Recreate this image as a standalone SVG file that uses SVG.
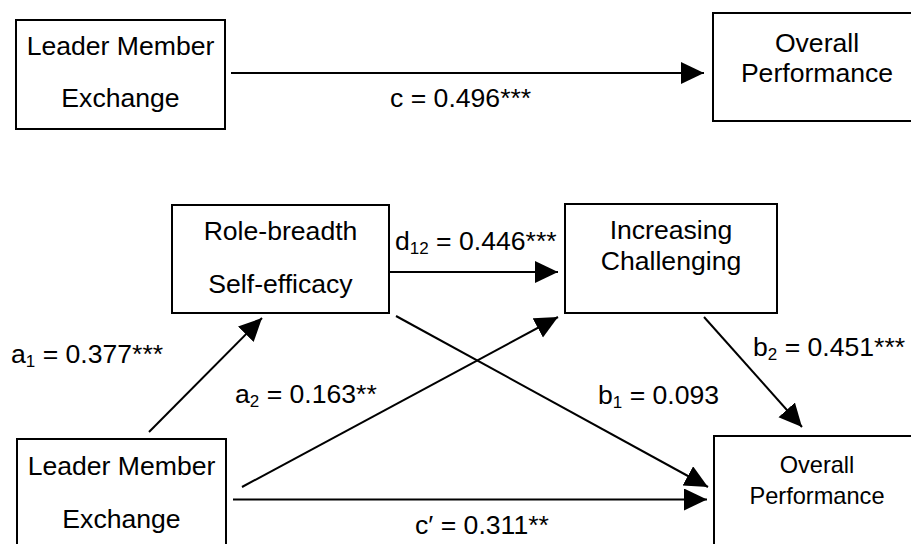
<svg xmlns="http://www.w3.org/2000/svg" width="911" height="544" viewBox="0 0 911 544">
<defs>
<style>
text { font-family: "Liberation Sans", Arial, sans-serif; font-size: 26.6px; fill: #000; }
.box { fill: #fff; stroke: #000; stroke-width: 2; }
.c { text-anchor: middle; }
.sm { font-size: 23.6px; }
.edge { stroke: #000; stroke-width: 2; fill: none; marker-end: url(#ah); }
.sub { font-size: 17px; }
</style>
<marker id="ah" markerUnits="userSpaceOnUse" markerWidth="26" markerHeight="26" refX="23" refY="11" orient="auto" viewBox="0 0 26 26">
<path d="M0,0 L23,11 L0,22 Z" fill="#000"/>
</marker>
</defs>
<rect width="911" height="544" fill="#fff"/>

<g id="connectors">
<line class="edge" x1="231" y1="73" x2="704" y2="73"/>
<line class="edge" x1="149" y1="432" x2="262" y2="318"/>
<line class="edge" x1="242" y1="487" x2="558" y2="317"/>
<line class="edge" x1="233" y1="499.5" x2="707" y2="499.5"/>
<line class="edge" x1="389" y1="272" x2="558" y2="272"/>
<line class="edge" x1="396" y1="316" x2="708" y2="487"/>
<line class="edge" x1="704" y1="317" x2="802" y2="427"/>
</g>

<g id="labels">
<text x="390" y="107">c = 0.496***</text>
<text x="11" y="363">a<tspan class="sub" dy="4">1</tspan><tspan dy="-4"> = 0.377***</tspan></text>
<text x="235" y="403">a<tspan class="sub" dy="4">2</tspan><tspan dy="-4"> = 0.163**</tspan></text>
<text x="395" y="250">d<tspan class="sub" dy="4">12</tspan><tspan dy="-4"> = 0.446***</tspan></text>
<text x="598" y="404">b<tspan class="sub" dy="4">1</tspan><tspan dy="-4"> = 0.093</tspan></text>
<text x="753" y="356">b<tspan class="sub" dy="4">2</tspan><tspan dy="-4"> = 0.451***</tspan></text>
<text x="415" y="534">c′ = 0.311**</text>
</g>

<g id="lmx-top">
<rect class="box" x="16" y="20" width="209" height="109"/>
<text class="c" x="120.5" y="55">Leader Member</text>
<text class="c" x="120.5" y="107">Exchange</text>
</g>

<g id="perf-top">
<rect class="box" x="713" y="13" width="210" height="108"/>
<text class="c" x="817" y="52">Overall</text>
<text class="c" x="817" y="82">Performance</text>
</g>

<g id="role-breadth">
<rect class="box" x="172" y="205" width="217" height="108"/>
<text class="c" x="280.5" y="240">Role-breadth</text>
<text class="c" x="280.5" y="293">Self-efficacy</text>
</g>

<g id="challenging">
<rect class="box" x="565" y="204" width="212" height="109"/>
<text class="c" x="671" y="239">Increasing</text>
<text class="c" x="671" y="270">Challenging</text>
</g>

<g id="lmx-bottom">
<rect class="box" x="17" y="439" width="209" height="120"/>
<text class="c" x="121.5" y="475">Leader Member</text>
<text class="c" x="121.5" y="528">Exchange</text>
</g>

<g id="perf-bottom">
<rect class="box" x="714" y="436" width="210" height="120"/>
<text class="c sm" x="817" y="473">Overall</text>
<text class="c sm" x="817" y="504">Performance</text>
</g>
</svg>
